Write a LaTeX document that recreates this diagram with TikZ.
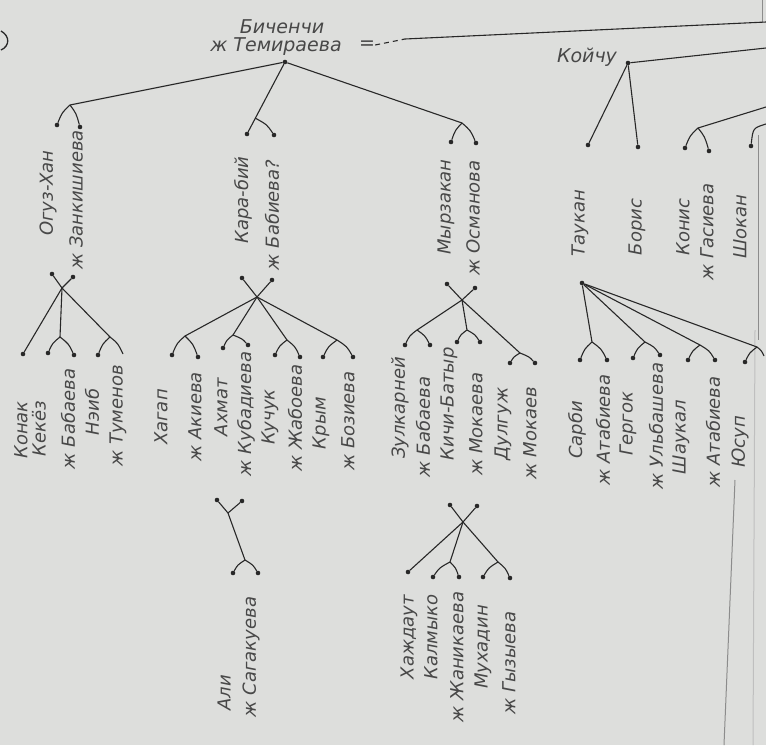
\documentclass[tikz,border=0pt]{standalone}
\usepackage{fontspec}
\setmainfont{DejaVu Sans}
\usetikzlibrary{calc}
\definecolor{paper}{RGB}{221,222,220}
\definecolor{ink}{RGB}{40,40,40}
\definecolor{txt}{RGB}{72,72,72}
\newcommand\forkto[2]{\draw[conn] (#1) .. controls ($(#1|-#2)!0.62!(#2|-#1)$) .. (#2);}
\begin{document}
\begin{tikzpicture}[x=1pt,y=-1pt,
  conn/.style={draw=ink, line width=1.1pt},
  pt/.style={circle, fill=ink, inner sep=0pt, minimum size=4.6pt},
  lbl/.style={rotate=90, inner sep=0pt, font=\fontsize{18}{18}\selectfont\itshape, text=txt},
  hlbl/.style={inner sep=0pt, font=\fontsize{19}{19}\selectfont\itshape, text=txt},
  edge/.style={draw=black!45, line width=1pt}]
\fill[paper] (0,0) rectangle (766,745);
\useasboundingbox (0,0) rectangle (766,745);
% stray mark top left
\draw[conn, line width=1.3pt] (1,31) .. controls (10,36) and (10,46) .. (1,50);
% page edges
\draw[edge] (762,0) -- (762,23);
\draw[edge] (758,135) -- (758,340);
\draw[edge] (735,480) -- (724,745);
\draw[edge, draw=black!25] (755,330) -- (753,745);
% ---------- top ----------
\node[hlbl] (bich) at (282,27) {Биченчи};
\node[hlbl] (bichw) at (276,47) {ж Темираева};
\node[hlbl] (eq) at (367,45) {=};
\coordinate (la) at (405,39);
\coordinate (lb) at (766,22);
\draw[conn, dashed, dash pattern=on 5pt off 4pt] (eq.east) -- (la);
\draw[conn] (la) -- (lb);
\node[pt] (r0) at (285,62) {};
% Koychu
\node[hlbl] (koi) at (587,57) {Койчу};
\node[pt] (k0) at (628,63) {};
\coordinate (kr) at (766,48);
\draw[conn] (k0) -- (kr);
\node[pt] (tk1) at (588,145) {};
\node[pt] (bor) at (638,147) {};
\draw[conn] (k0) -- (tk1);
\draw[conn] (k0) -- (bor);
\coordinate (kfr) at (766,107);
\coordinate (kf2) at (698,128);
\node[pt] (kn1) at (685,148) {};
\node[pt] (kn2) at (709,151) {};
\draw[conn] (kfr) -- (kf2);
\forkto{kf2}{kn1}
\forkto{kf2}{kn2}
\coordinate (kf3) at (766,124);
\node[pt] (sh1) at (751,146) {};
\draw[conn] (kf3) .. controls (753,128) .. (sh1);
% first generation
\coordinate (fog) at (70,105);
\node[pt] (og1) at (57,125) {};
\node[pt] (og2) at (80,127) {};
\draw[conn] (r0) -- (fog);
\forkto{fog}{og1}
\forkto{fog}{og2}
\node[pt] (kb1) at (247,134) {};
\node[pt] (kb2) at (274,135) {};
\draw[conn] (r0) -- (kb1);
\coordinate (kbf) at ($(r0)!0.78!(kb1)$);
\forkto{kbf}{kb2}
\coordinate (fmy) at (462,123);
\node[pt] (my1) at (451,142) {};
\node[pt] (my2) at (476,143) {};
\draw[conn] (r0) -- (fmy);
\forkto{fmy}{my1}
\forkto{fmy}{my2}
% first generation labels
\node[lbl] (t-og) at (48,193) {Огуз-Хан};
\node[lbl] (t-ogw) at (76,200) {ж Занкишиева};
\node[lbl] (t-kb) at (243,200) {Кара-бий};
\node[lbl] (t-kbw) at (272,215) {ж Бабиева?};
\node[lbl] (t-my) at (446,207) {Мырзакан};
\node[lbl] (t-myw) at (473,218) {ж Османова};
\node[lbl] (t-tk) at (580,223) {Таукан};
\node[lbl] (t-bor) at (637,227) {Борис};
\node[lbl] (t-kn) at (683,227) {Конис};
\node[lbl] (t-knw) at (707,232) {ж Гасиева};
\node[lbl] (t-sh) at (740,227) {Шокан};
% ---------- Oguz family ----------
\node[pt] (og3) at (52,274) {};
\node[pt] (og4) at (73,277) {};
\coordinate (ogj) at (62,288);
\draw[conn] (og3) -- (ogj);
\draw[conn] (og4) -- (ogj);
\node[pt] (c1) at (23,354) {};
\coordinate (ogf1) at (60,337);
\coordinate (ogf2) at (110,337);
\node[pt] (c2) at (48,353) {};
\node[pt] (c3) at (74,355) {};
\node[pt] (c4) at (98,355) {};
\coordinate (c5) at (123,354);
\draw[conn] (ogj) -- (c1);
\draw[conn] (ogj) -- (ogf1);
\draw[conn] (ogj) -- (ogf2);
\forkto{ogf1}{c2}
\forkto{ogf1}{c3}
\forkto{ogf2}{c4}
\forkto{ogf2}{c5}
\node[lbl] (t-c1) at (21,430) {Конак};
\node[lbl] (t-c2) at (39,429) {Кекёз};
\node[lbl] (t-c3) at (68,419) {ж Бабаева};
\node[lbl] (t-c4) at (92,412) {Нэиб};
\node[lbl] (t-c5) at (118,416) {ж Туменов};
% ---------- Kara-biy family ----------
\node[pt] (kb3) at (242,278) {};
\node[pt] (kb4) at (272,280) {};
\coordinate (kbj) at (257,297);
\draw[conn] (kb3) -- (kbj);
\draw[conn] (kb4) -- (kbj);
\coordinate (kbf1) at (185,336);
\coordinate (kbf2) at (233,335);
\coordinate (kbf3) at (287,340);
\coordinate (kbf4) at (337,340);
\foreach \f in {kbf1,kbf2,kbf3,kbf4} \draw[conn] (kbj) -- (\f);
\node[pt] (h1) at (172,355) {};
\node[pt] (h2) at (198,357) {};
\node[pt] (h3) at (223,348) {};
\node[pt] (h4) at (248,345) {};
\node[pt] (h5) at (275,355) {};
\node[pt] (h6) at (300,357) {};
\node[pt] (h7) at (323,357) {};
\node[pt] (h8) at (353,357) {};
\forkto{kbf1}{h1}
\forkto{kbf1}{h2}
\forkto{kbf2}{h3}
\forkto{kbf2}{h4}
\forkto{kbf3}{h5}
\forkto{kbf3}{h6}
\forkto{kbf4}{h7}
\forkto{kbf4}{h8}
\node[lbl] (t-h1) at (161,417) {Хагап};
\node[lbl] (t-h2) at (195,417) {ж Акиева};
\node[lbl] (t-h3) at (221,407) {Ахмат};
\node[lbl] (t-h4) at (246,414) {ж Кубадиева};
\node[lbl] (t-h5) at (270,417) {Кучук};
\node[lbl] (t-h6) at (295,418) {ж Жабоева};
\node[lbl] (t-h7) at (321,423) {Крым};
\node[lbl] (t-h8) at (348,421) {ж Бозиева};
% Ahmat family
\node[pt] (ah1) at (217,500) {};
\node[pt] (ah2) at (242,501) {};
\coordinate (ahj) at (228,513);
\coordinate (ahf) at (245,560);
\draw[conn] (ah1) -- (ahj);
\draw[conn] (ah2) -- (ahj);
\draw[conn] (ahj) -- (ahf);
\node[pt] (al1) at (233,573) {};
\node[pt] (al2) at (258,573) {};
\forkto{ahf}{al1}
\forkto{ahf}{al2}
\node[lbl] (t-al1) at (224,693) {Али};
\node[lbl] (t-al2) at (251,657) {ж Сагакуева};
% ---------- Myrzakan family ----------
\node[pt] (my3) at (447,284) {};
\node[pt] (my4) at (475,288) {};
\coordinate (myj) at (462,300);
\draw[conn] (my3) -- (myj);
\draw[conn] (my4) -- (myj);
\coordinate (myf1) at (417,330);
\coordinate (myf2) at (467,330);
\coordinate (myf3) at (520,353);
\foreach \f in {myf1,myf2,myf3} \draw[conn] (myj) -- (\f);
\node[pt] (z1) at (405,345) {};
\node[pt] (z2) at (430,345) {};
\node[pt] (z3) at (457,342) {};
\node[pt] (z4) at (480,342) {};
\node[pt] (z5) at (510,363) {};
\node[pt] (z6) at (535,363) {};
\forkto{myf1}{z1}
\forkto{myf1}{z2}
\forkto{myf2}{z3}
\forkto{myf2}{z4}
\forkto{myf3}{z5}
\forkto{myf3}{z6}
\node[lbl] (t-z1) at (400,408) {Зулкарней};
\node[lbl] (t-z2) at (423,427) {ж Бабаева};
\node[lbl] (t-z3) at (449,404) {Кичи-Батыр};
\node[lbl] (t-z4) at (476,424) {ж Мокаева};
\node[lbl] (t-z5) at (503,424) {Дулгуж};
\node[lbl] (t-z6) at (530,433) {ж Мокаев};
% Kichi-Batyr family
\node[pt] (kc1) at (450,505) {};
\node[pt] (kc2) at (477,506) {};
\coordinate (kcj) at (463,522);
\draw[conn] (kc1) -- (kcj);
\draw[conn] (kc2) -- (kcj);
\node[pt] (x1) at (408,572) {};
\coordinate (kcf1) at (450,562);
\coordinate (kcf2) at (498,562);
\draw[conn] (kcj) -- (x1);
\draw[conn] (kcj) -- (kcf1);
\draw[conn] (kcj) -- (kcf2);
\node[pt] (x2) at (433,577) {};
\node[pt] (x3) at (459,577) {};
\node[pt] (x4) at (483,577) {};
\node[pt] (x5) at (510,578) {};
\forkto{kcf1}{x2}
\forkto{kcf1}{x3}
\forkto{kcf2}{x4}
\forkto{kcf2}{x5}
\node[lbl] (t-x1) at (409,637) {Хаждаут};
\node[lbl] (t-x2) at (431,637) {Калмыко};
\node[lbl] (t-x3) at (457,657) {ж Жаникаева};
\node[lbl] (t-x4) at (483,647) {Мухадин};
\node[lbl] (t-x5) at (509,663) {ж Гызыева};
% ---------- Taukan family ----------
\node[pt] (tk2) at (582,283) {};
\coordinate (tf1) at (592,342);
\coordinate (tf2) at (645,342);
\coordinate (tf3) at (700,345);
\coordinate (tf4) at (757,347);
\foreach \f in {tf1,tf2,tf3,tf4} \draw[conn] (tk2) -- (\f);
\node[pt] (s1) at (580,360) {};
\node[pt] (s2) at (607,360) {};
\node[pt] (s3) at (633,358) {};
\node[pt] (s4) at (660,355) {};
\node[pt] (s5) at (688,360) {};
\node[pt] (s6) at (715,360) {};
\node[pt] (s7) at (745,362) {};
\coordinate (s8) at (764,356);
\forkto{tf1}{s1}
\forkto{tf1}{s2}
\forkto{tf2}{s3}
\forkto{tf2}{s4}
\forkto{tf3}{s5}
\forkto{tf3}{s6}
\forkto{tf4}{s7}
\forkto{tf4}{s8}
\node[lbl] (t-s1) at (577,430) {Сарби};
\node[lbl] (t-s2) at (603,430) {ж Атабиева};
\node[lbl] (t-s3) at (628,424) {Гергок};
\node[lbl] (t-s4) at (656,426) {ж Ульбашева};
\node[lbl] (t-s5) at (681,437) {Шаукал};
\node[lbl] (t-s6) at (713,432) {ж Атабиева};
\node[lbl] (t-s7) at (740,442) {Юсуп};
\end{tikzpicture}
\end{document}
